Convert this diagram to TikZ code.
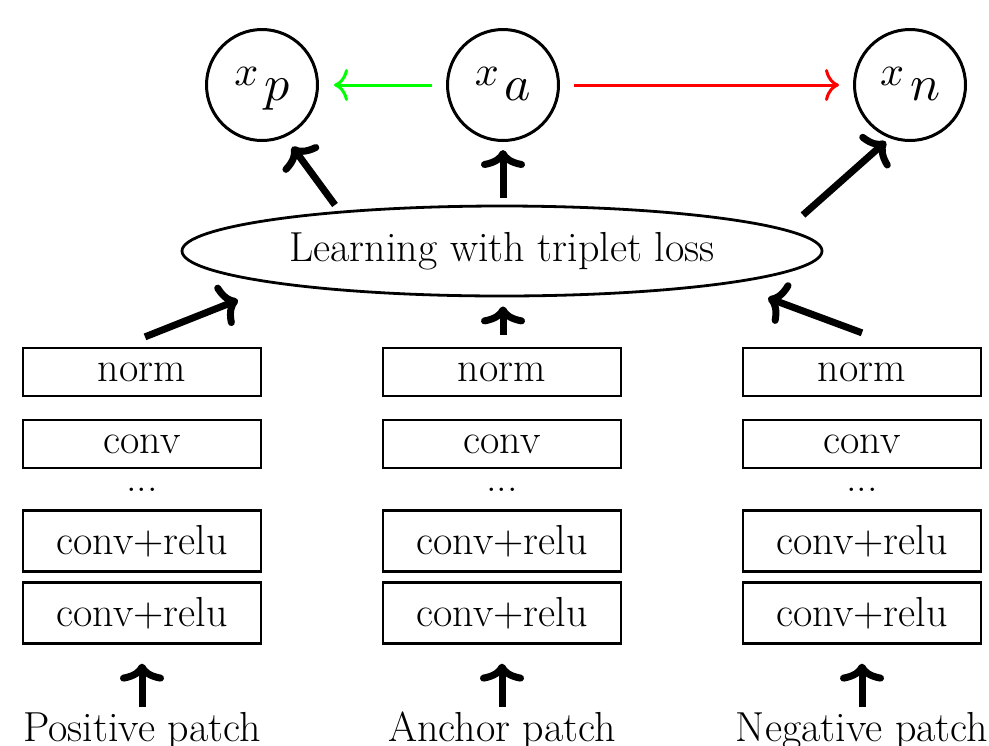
\documentclass[tikz,border=0pt]{standalone}
\usetikzlibrary{arrows.meta,shapes.geometric,calc}
\newcommand{\embsym}[1]{\scalebox{2.1}{\normalsize$x$}\hspace{3pt}\raisebox{-7.5pt}{\scalebox{2.5}{\normalsize$#1$}}}
\begin{document}
\begin{tikzpicture}[x=0.5pt,y=-0.5pt,
  font=\fontsize{21}{25}\selectfont,
  circ/.style={circle,draw,line width=1.5pt,minimum size=55.5pt,inner sep=0pt},
  layer/.style={draw,line width=1.3pt,minimum width=119pt,inner xsep=0pt,inner ysep=7.2pt},
  big/.style={line width=3.5pt,-{To[length=9pt,width=22pt]}},
  simarrow/.style={line width=1.5pt,-{To[length=7pt,width=16pt]}}
]
\useasboundingbox (0,0) rectangle (989,745);

\node[circ] (xp) at (262,85) {};
\node[circ] (xa) at (503,85) {};
\node[circ] (xn) at (910,85) {};
\node[inner sep=0pt,anchor=base] (lp) at ($(xp.center)+(0,0)$) {\embsym{p}};
\node[inner sep=0pt,anchor=base] (la) at ($(xa.center)+(0,0)$) {\embsym{a}};
\node[inner sep=0pt,anchor=base] (ln) at ($(xn.center)+(0,0)$) {\embsym{n}};

\node[ellipse,draw,line width=1.4pt,minimum width=320pt,minimum height=45pt,inner sep=0pt] (loss) at (502,251) {Learning with triplet loss};

\foreach \cx/\nm/\lab in {142/p/Positive patch, 502/a/Anchor patch, 862/n/Negative patch}{
  \node[layer] (norm\nm) at (\cx,372) {norm};
  \node[layer] (conv\nm) at (\cx,444) {conv};
  \node (dots\nm) at (\cx,490) {...};
  \node[layer] (cr\nm) at (\cx,541) {conv+relu};
  \node[layer] (crr\nm) at (\cx,613) {conv+relu};
  \node[anchor=base,inner sep=0pt] (in\nm) at (\cx,741) {\lab};
  \draw[big] ($(in\nm.north)+(0,-4)$) -- ($(crr\nm.south)+(0,19)$);
}

% patches to loss
\draw[big] ($(normp.north)+(3,-10)$) -- ($(loss.center)+(-264,49)$);
\draw[big] ($(norma.north)+(1,-12)$) -- ($(loss.south)+(1,9)$);
\draw[big] ($(normn.north)+(0,-14)$) -- ($(loss.center)+(266,47)$);

% loss to embeddings
\draw[big,shorten >=6pt] ($(loss.center)+(-167,-46)$) -- (xp.-66);
\draw[big,shorten >=4pt] ($(loss.north)+(1,-7)$) -- (xa);
\draw[big,shorten >=2.5pt] ($(loss.center)+(301,-36)$) -- (xn.-111);

% anchor relations
\draw[simarrow,green,shorten <=7pt,shorten >=7.5pt] (xa) -- (xp);
\draw[simarrow,red,shorten <=7pt,shorten >=7pt] (xa) -- (xn);
\end{tikzpicture}
\end{document}
